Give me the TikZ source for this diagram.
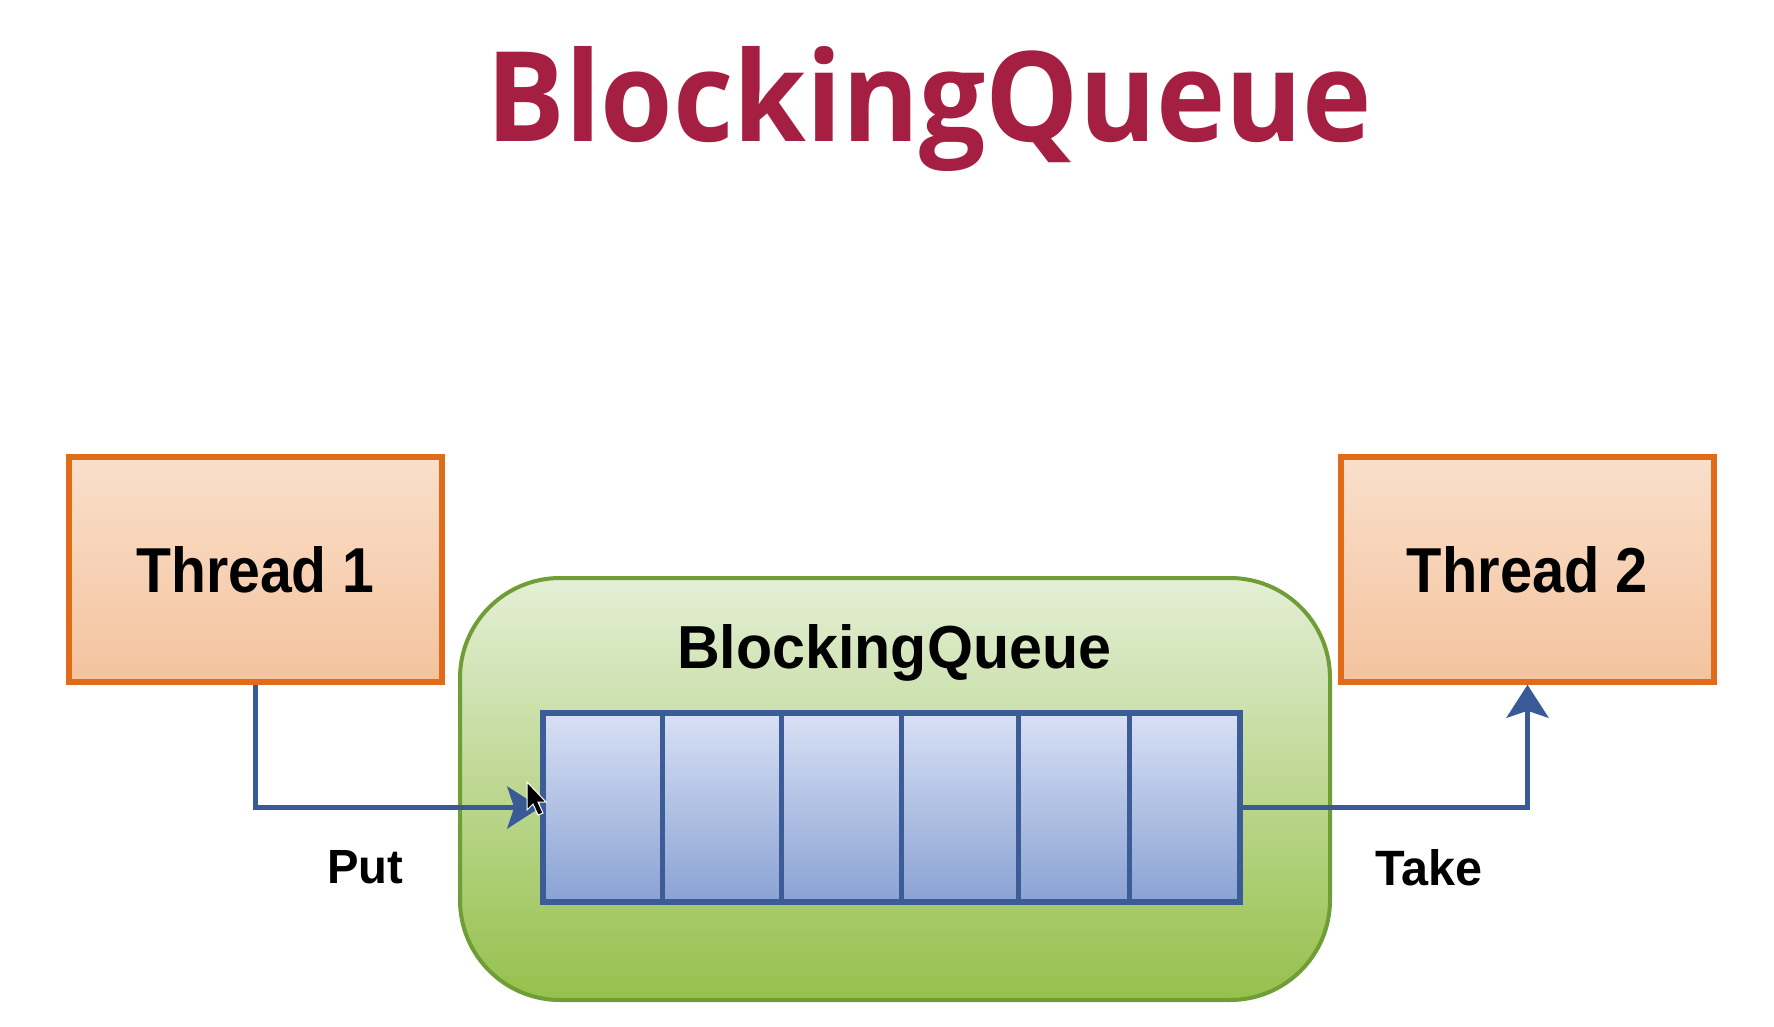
\documentclass[tikz,border=0pt]{standalone}
\usepackage{fontspec}
\usepackage{graphicx}
\setmainfont{Liberation Sans}
\newfontfamily\titlefont{Open Sans}
\usetikzlibrary{arrows.meta}
\definecolor{titlec}{HTML}{A51F43}
\definecolor{orangeb}{HTML}{E06C1A}
\definecolor{orangetop}{HTML}{FADFCB}
\definecolor{orangebot}{HTML}{F4C39E}
\definecolor{greenb}{HTML}{6E9E35}
\definecolor{greentop}{HTML}{E4EFD6}
\definecolor{greenbot}{HTML}{96C04C}
\definecolor{blueb}{HTML}{3B5C96}
\definecolor{bluetop}{HTML}{D8E0F4}
\definecolor{bluebot}{HTML}{8AA2D4}
\definecolor{arrowc}{HTML}{3A5A97}
\tikzset{
  threadbox/.style={draw=orangeb, line width=5.5pt, top color=orangetop, bottom color=orangebot,
    minimum width=373pt, minimum height=225pt, inner sep=0pt},
  greenbox/.style={draw=greenb, line width=4pt, top color=greentop, bottom color=greenbot,
    minimum width=870pt, minimum height=422pt, rounded corners=100pt, inner sep=0pt},
  queuebox/.style={draw=blueb, line width=5.5pt, top color=bluetop, bottom color=bluebot,
    minimum width=697pt, minimum height=189pt, inner sep=0pt},
  divider/.style={draw=blueb, line width=5pt},
  flow/.style={draw=arrowc, line width=5pt, -{Stealth[length=33pt,width=42pt,inset=7pt]}},
  lbl/.style={inner sep=0pt, anchor=base west},
}
\begin{document}
\begin{tikzpicture}[x=1pt,y=-1pt]
\useasboundingbox[fill=white] (0,0) rectangle (1774,1026);
% title
\node[lbl, text=titlec] (title) at (486,141) {\resizebox{885pt}{95pt}{\titlefont\bfseries BlockingQueue}};
% threads
\node[threadbox] (t1) at (255.5,569.5) {\resizebox{238pt}{46pt}{\bfseries Thread 1}};
\node[threadbox] (t2) at (1527.5,569.5) {\resizebox{241pt}{46pt}{\bfseries Thread 2}};
% blocking queue container
\node[greenbox] (bq) at (895,789) {};
\node[lbl] (bqlabel) at (677,668) {\resizebox{434pt}{44pt}{\bfseries BlockingQueue}};
% queue
\node[queuebox] (q) at (891.5,807.5) {};
\foreach \x [count=\i] in {662,781,901,1018,1129} {
  \coordinate (d\i) at (\x,0);
  \draw[divider] (q.north -| d\i) -- (q.south -| d\i);
}
% connectors
\draw[flow] (t1.south) |- (q.west);
\draw[flow] (q.east) -| (t2.south);
% labels
\node[lbl] (put) at (327,883) {\resizebox{76pt}{33pt}{\bfseries Put}};
\node[lbl] (take) at (1375,885) {\resizebox{107pt}{36pt}{\bfseries Take}};
% mouse cursor
\filldraw[fill=black, draw=white, line width=1pt]
  (527,782) -- (527,810) -- (533,804) -- (538,815) -- (543,813) -- (538,802) -- (546,802) -- cycle;
\end{tikzpicture}
\end{document}
